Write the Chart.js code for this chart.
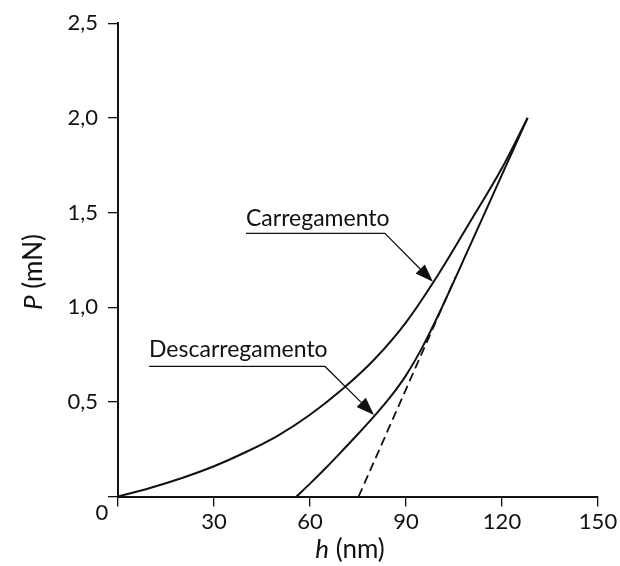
<!DOCTYPE html>
<html>
<head>
<meta charset="utf-8">
<script src="https://cdn.jsdelivr.net/npm/chart.js@4.4.1/dist/chart.umd.min.js"></script>
<style>
  html, body { margin: 0; padding: 0; background: #fff; }
  #wrap { width: 620px; height: 566px; position: relative; }
</style>
</head>
<body>
<div id="wrap"><canvas id="chart_nanoindent"></canvas></div>
<script>
// curva de carregamento (h em nm, P em mN)
var loadH = [0, 10, 20, 30, 40, 50, 60, 70, 80, 90, 100, 110, 120, 128];
var loadP = [0, 0.045, 0.098, 0.16, 0.235, 0.322, 0.432, 0.565, 0.722, 0.92, 1.17, 1.45, 1.735, 2.0];

// curva de descarregamento
var unloadH = [55.8, 60, 65, 70, 75, 80, 85, 90, 95, 100, 110, 120, 128];
var unloadP = [0, 0.068, 0.152, 0.24, 0.33, 0.423, 0.523, 0.64, 0.785, 0.955, 1.325, 1.70, 2.0];

// reta tangente (tracejada)
var tangH = [75.2, 105.5];
var tangP = [0, 1.16];

var xTicks = [0, 30, 60, 90, 120, 150];
var yTickLabels = ['0', '0,5', '1,0', '1,5', '2,0', '2,5'];

var calloutLabels = ['Carregamento', 'Descarregamento'];

function toPoints(xs, ys) {
  var pts = [];
  for (var i = 0; i <= xs.length - 1; i++) {
    pts.push({ x: xs[i], y: ys[i] });
  }
  return pts;
}

var FONT = 'Lato, "Open Sans", sans-serif';

// setas com rotulo + titulos dos eixos + o "0" da origem
var annotate = {
  id: 'annotate',
  afterDatasetsDraw: function(chart, args, opts) {
    var ctx = chart.ctx;
    var xs = chart.scales.x, ys = chart.scales.y;
    ctx.save();
    ctx.fillStyle = '#111';
    ctx.strokeStyle = '#111';

    opts.callouts.forEach(function(c, i) {
      var tx = xs.getPixelForValue(c.textH), ty = ys.getPixelForValue(c.textP);
      var ux = xs.getPixelForValue(c.lineEndH), uy = ys.getPixelForValue(c.lineP);
      var px = xs.getPixelForValue(c.tipH), py = ys.getPixelForValue(c.tipP);
      ctx.font = '23px ' + FONT;
      ctx.textAlign = 'left';
      ctx.textBaseline = 'alphabetic';
      ctx.fillText(calloutLabels[i], tx, ty);

      var ang = Math.atan2(py - uy, px - ux);
      var len = 18, hw = 6.5;
      var bx = px - len * Math.cos(ang), by = py - len * Math.sin(ang);
      ctx.lineWidth = 1.3;
      ctx.beginPath();
      ctx.moveTo(tx, uy);
      ctx.lineTo(ux, uy);
      ctx.lineTo(bx, by);
      ctx.stroke();
      ctx.beginPath();
      ctx.moveTo(px, py);
      ctx.lineTo(bx + hw * Math.sin(ang), by - hw * Math.cos(ang));
      ctx.lineTo(bx - hw * Math.sin(ang), by + hw * Math.cos(ang));
      ctx.closePath();
      ctx.fill();
    });

    // "0" da origem
    ctx.font = '22px ' + FONT;
    ctx.textAlign = 'center';
    ctx.textBaseline = 'top';
    ctx.fillText('0', xs.getPixelForValue(0) - 16, ys.getPixelForValue(0) + 5);

    // titulo eixo x: h (nm)
    var cx = (chart.chartArea.left + chart.chartArea.right) / 2 - 8;
    var base = chart.chartArea.bottom + 61;
    ctx.textBaseline = 'alphabetic';
    ctx.textAlign = 'left';
    ctx.font = 'italic 26px ' + FONT;
    var w1 = ctx.measureText('h').width;
    ctx.font = '26px ' + FONT;
    var w2 = ctx.measureText(' (nm)').width;
    var sx = cx - (w1 + w2) / 2;
    ctx.font = 'italic 26px ' + FONT;
    ctx.fillText('h', sx, base);
    ctx.font = '26px ' + FONT;
    ctx.fillText(' (nm)', sx + w1, base);

    // titulo eixo y: P (mN)
    ctx.translate(42, 272);
    ctx.rotate(-Math.PI / 2);
    ctx.font = 'italic 26px ' + FONT;
    w1 = ctx.measureText('P').width;
    ctx.font = '26px ' + FONT;
    w2 = ctx.measureText(' (mN)').width;
    sx = -(w1 + w2) / 2;
    ctx.font = 'italic 26px ' + FONT;
    ctx.fillText('P', sx, 0);
    ctx.font = '26px ' + FONT;
    ctx.fillText(' (mN)', sx + w1, 0);
    ctx.restore();
  }
};

var ctx = document.getElementById('chart_nanoindent').getContext('2d');
var chart = new Chart(ctx, {
  type: 'line',
  data: {
    datasets: [
      {
        label: 'Carregamento',
        data: toPoints(loadH, loadP),
        borderColor: '#111',
        borderWidth: 2,
        pointRadius: 0,
        cubicInterpolationMode: 'monotone',
        fill: false
      },
      {
        label: 'Descarregamento',
        data: toPoints(unloadH, unloadP),
        borderColor: '#111',
        borderWidth: 2,
        pointRadius: 0,
        cubicInterpolationMode: 'monotone',
        fill: false
      },
      {
        label: 'Tangente',
        data: toPoints(tangH, tangP),
        borderColor: '#111',
        borderWidth: 1.8,
        borderDash: [9, 5],
        pointRadius: 0,
        tension: 0,
        fill: false
      }
    ]
  },
  options: {
    responsive: true,
    maintainAspectRatio: false,
    animation: false,
    layout: { padding: { top: 21, right: 22, left: 0, bottom: 0 } },
    plugins: {
      legend: { display: false },
      tooltip: { enabled: false },
      annotate: {
        callouts: [
          { textH: 40, textP: 1.43, lineP: 1.39, lineEndH: 83.4, tipH: 98.4, tipP: 1.134 },
          { textH: 9.7, textP: 0.735, lineP: 0.687, lineEndH: 64.7, tipH: 80, tipP: 0.43 }
        ]
      }
    },
    scales: {
      x: {
        type: 'linear',
        min: 0,
        max: 150,
        afterBuildTicks: function(scale) {
          scale.ticks = xTicks.map(function(v) { return { value: v }; });
        },
        afterFit: function(scale) { scale.height = 69.5; },
        border: { display: true, color: '#111', width: 2 },
        grid: { drawOnChartArea: false, drawTicks: true, tickLength: 10, color: '#111', lineWidth: 1.3 },
        ticks: {
          color: '#111',
          padding: 2,
          font: { family: FONT, size: 22 },
          maxRotation: 0,
          callback: function(v) { return v === 0 ? '' : String(v); }
        }
      },
      y: {
        type: 'linear',
        min: 0,
        max: 2.5,
        afterBuildTicks: function(scale) {
          scale.ticks = yTickLabels.map(function(t, i) { return { value: i * 0.5 }; });
        },
        afterFit: function(scale) { scale.width = 118; },
        border: { display: true, color: '#111', width: 2 },
        grid: { drawOnChartArea: false, drawTicks: true, tickLength: 10, color: '#111', lineWidth: 1.3 },
        ticks: {
          color: '#111',
          padding: 10,
          font: { family: FONT, size: 22 },
          callback: function(v, i) { return i === 0 ? '' : yTickLabels[i]; }
        }
      }
    }
  },
  plugins: [annotate]
});
</script>
</body>
</html>
